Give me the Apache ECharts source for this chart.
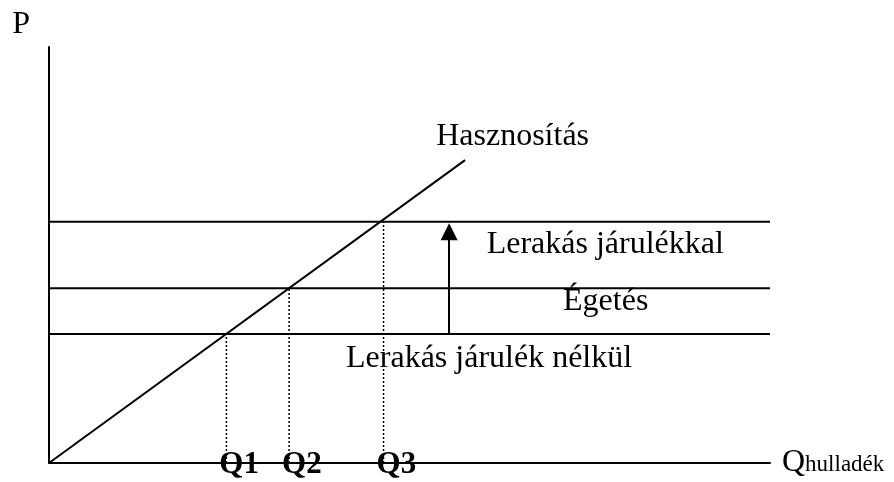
<!DOCTYPE html>
<html>
<head>
<meta charset="utf-8">
<script src="https://cdn.jsdelivr.net/npm/echarts@6/dist/echarts.min.js"></script>
<style>
  html, body { margin: 0; padding: 0; background: #fff; }
  #chart { width: 894px; height: 482px; }
</style>
</head>
<body>
<div id="chart"></div>
<script>
// Price levels of the three disposal options (P axis)
var levelNames = ['Lerakás járulék nélkül', 'Égetés', 'Lerakás járulékkal'];
var levelValues = [31, 42, 58];

// Recovery (Hasznosítás) marginal cost line: start and end points
var recoveryLine = [[0, 0], [57.7, 72.8]];

// Quantities where the recovery line meets each level
var qNames = ['Q1', 'Q2', 'Q3'];
var qValues = [24.6, 33.3, 46.4];

// The fee pushes landfilling up from the lowest to the highest level
var arrowX = 55.5;

// Text annotations: [x, y, text]
var annotations = [
  [-5.1, 105.3, 'P'],
  [53.7, 78.4, 'Hasznosítás'],
  [60.7, 52.4, 'Lerakás járulékkal'],
  [71.3, 38.8, 'Égetés'],
  [41.2, 25.2, 'Lerakás járulék nélkül']
];

var FONT = '"Liberation Serif", "DejaVu Serif", serif';

var chart = echarts.init(document.getElementById('chart'));

var levelSeries = levelValues.map(function (v, i) {
  return {
    type: 'line',
    name: levelNames[i],
    data: [[0, v], [100, v]],
    symbol: 'none',
    silent: true,
    lineStyle: { color: '#000', width: 2 }
  };
});

var dropSeries = qValues.map(function (q, i) {
  return {
    type: 'line',
    name: qNames[i],
    data: [[q, 0], [q, levelValues[i]]],
    symbol: 'none',
    silent: true,
    lineStyle: { color: '#000', width: 1.5, type: [2, 2] }
  };
});

chart.setOption({
  animation: false,
  backgroundColor: '#fff',
  grid: { left: 49, right: 124, top: 47, bottom: 19 },
  xAxis: {
    type: 'value',
    min: 0, max: 100,
    name: '{big|Q}{small|hulladék}',
    nameLocation: 'end',
    nameGap: 12,
    nameTextStyle: {
      rich: {
        big: { fontFamily: FONT, fontSize: 32, color: '#000' },
        small: { fontFamily: FONT, fontSize: 23, color: '#000', padding: [4, 0, 0, 0] }
      }
    },
    axisLine: { lineStyle: { color: '#000', width: 2 } },
    axisTick: { show: false },
    axisLabel: { show: false },
    splitLine: { show: false }
  },
  yAxis: {
    type: 'value',
    min: 0, max: 100,
    axisLine: { show: true, lineStyle: { color: '#000', width: 2 } },
    axisTick: { show: false },
    axisLabel: { show: false },
    splitLine: { show: false }
  },
  series: levelSeries.concat(dropSeries).concat([
    {
      type: 'line',
      name: 'Hasznosítás',
      data: recoveryLine,
      symbol: 'none',
      silent: true,
      lineStyle: { color: '#000', width: 2 }
    },
    {
      // arrow head is centred on the end point, so stop a bit short of the top level
      type: 'lines',
      coordinateSystem: 'cartesian2d',
      silent: true,
      symbol: ['none', 'triangle'],
      symbolSize: 17,
      lineStyle: { color: '#000', width: 2, opacity: 1 },
      itemStyle: { color: '#000' },
      data: [{ coords: [[arrowX, levelValues[0]], [arrowX, levelValues[2] - 2.4]] }]
    },
    {
      type: 'scatter',
      symbolSize: 0,
      silent: true,
      clip: false,
      itemStyle: { opacity: 1 },
      data: annotations.map(function (a) { return { value: [a[0], a[1]], name: a[2] }; }),
      label: {
        show: true,
        position: [0, 0],
        align: 'left',
        verticalAlign: 'middle',
        formatter: '{b}',
        fontFamily: FONT,
        fontSize: 32,
        color: '#000',
        opacity: 1
      }
    },
    {
      type: 'scatter',
      symbolSize: 0,
      silent: true,
      clip: false,
      itemStyle: { opacity: 1 },
      data: qValues.map(function (q, i) { return { value: [q, 0], name: qNames[i] }; }),
      label: {
        show: true,
        position: [-7, 2],
        align: 'left',
        verticalAlign: 'middle',
        formatter: '{b}',
        fontFamily: FONT,
        fontSize: 31,
        fontWeight: 'bold',
        color: '#000',
        opacity: 1
      }
    }
  ])
});
</script>
</body>
</html>
